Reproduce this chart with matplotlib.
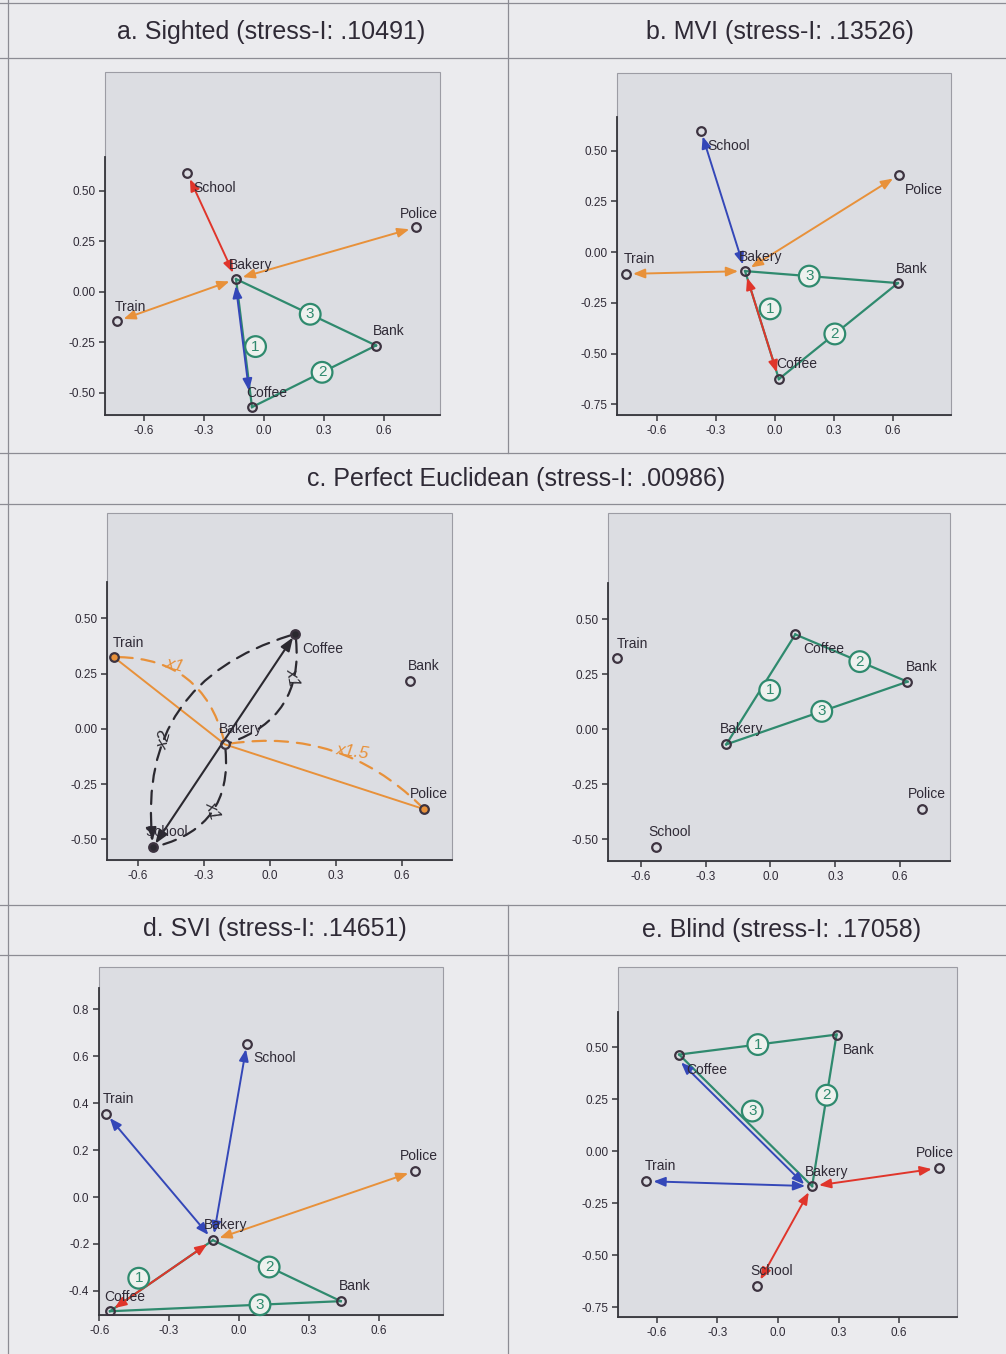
import matplotlib
matplotlib.use("Agg")
import matplotlib.pyplot as plt
from matplotlib.patches import FancyArrowPatch, Rectangle
from matplotlib.lines import Line2D
from matplotlib.transforms import ScaledTranslation

plt.rcParams['font.family'] = ['Liberation Sans', 'DejaVu Sans']

# ---------------------------------------------------------------- data
places = ["School", "Police", "Bakery", "Train", "Bank", "Coffee"]

sighted_x = [-0.385, 0.76, -0.14, -0.735, 0.56, -0.06]
sighted_y = [0.59, 0.32, 0.064, -0.145, -0.265, -0.57]

mvi_x = [-0.376, 0.63, -0.152, -0.757, 0.625, 0.02]
mvi_y = [0.596, 0.38, -0.094, -0.108, -0.153, -0.626]

euclid_x = [-0.532, 0.70, -0.205, -0.71, 0.635, 0.115]
euclid_y = [-0.535, -0.363, -0.07, 0.325, 0.215, 0.43]

svi_x = [0.034, 0.755, -0.112, -0.57, 0.437, -0.554]
svi_y = [0.654, 0.111, -0.184, 0.355, -0.444, -0.487]

blind_x = [-0.104, 0.796, 0.169, -0.652, 0.29, -0.49]
blind_y = [-0.647, -0.082, -0.169, -0.145, 0.56, 0.464]

group_names = ["a. Sighted", "b. MVI", "c. Perfect Euclidean", "d. SVI", "e. Blind"]
stress_values = [".10491", ".13526", ".00986", ".14651", ".17058"]

x_ticks = [-0.6, -0.3, 0.0, 0.3, 0.6]
x_tick_labels = ["-0.6", "-0.3", "0.0", "0.3", "0.6"]
y_ticks_quarter = [0.5, 0.25, 0.0, -0.25, -0.5, -0.75]
y_tick_labels_quarter = ["0.50", "0.25", "0.00", "-0.25", "-0.50", "-0.75"]
y_ticks_fifth = [0.8, 0.6, 0.4, 0.2, 0.0, -0.2, -0.4]
y_tick_labels_fifth = ["0.8", "0.6", "0.4", "0.2", "0.0", "-0.2", "-0.4"]

# ---------------------------------------------------------------- style
W, H = 1006, 1354
PAGE = '#ebebee'
BOX = '#dcdde2'
INK = '#2f2a36'
AXIS = '#35353b'
GREEN = '#2f8a6e'
ORANGE = '#e8913a'
RED = '#e0352b'
BLUE = '#3447b8'
DARK = '#2b2930'

fig = plt.figure(figsize=(W / 100, H / 100), dpi=100)
fig.patch.set_facecolor(PAGE)


def fig_line(x0, y0, x1, y1, **kw):
    fig.add_artist(Line2D([x0 / W, x1 / W], [1 - y0 / H, 1 - y1 / H],
                          transform=fig.transFigure, **kw))


# table rules of the figure page
rule = dict(color='#8c8c94', lw=0.9)
for yy in (3, 58, 453, 504, 905, 955):
    fig_line(0, yy, W, yy, **rule)
fig_line(8, 0, 8, H, **rule)
fig_line(508, 0, 508, 453, **rule)
fig_line(508, 905, 508, H, **rule)


def make_axes(box, xlim, ylim, yticks, ylabels, axis_top):
    x0, y0, x1, y1 = box
    ax = fig.add_axes([x0 / W, 1 - y1 / H, (x1 - x0) / W, (y1 - y0) / H])
    ax.set_facecolor(BOX)
    ax.set_xlim(*xlim)
    ax.set_ylim(*ylim)
    ax.set_xticks(x_ticks)
    ax.set_xticklabels(x_tick_labels)
    ax.set_yticks(yticks)
    ax.set_yticklabels(ylabels)
    for s in ('top', 'right'):
        ax.spines[s].set_visible(False)
    ax.spines['left'].set_bounds(ylim[0], axis_top)
    ax.spines['left'].set_color(AXIS)
    ax.spines['bottom'].set_color(AXIS)
    ax.spines['left'].set_linewidth(1.3)
    ax.spines['bottom'].set_linewidth(1.3)
    ax.add_patch(Rectangle((0, 0), 1, 1, transform=ax.transAxes, fill=False,
                           ec='#9c9ca4', lw=0.8, clip_on=False, zorder=0.5))
    ax.tick_params(direction='out', length=4, width=1.1, color=AXIS,
                   labelsize=8.5, labelcolor=INK, pad=3)
    return ax


def draw_points(ax, xs, ys, offsets, fills=None):
    for i, name in enumerate(places):
        fc = 'none' if fills is None else fills[i]
        ax.plot(xs[i], ys[i], 'o', ms=6.2, mfc=fc, mec='#3d3340', mew=1.6, zorder=6)
        dx, dy = offsets[i]
        ax.annotate(name, (xs[i], ys[i]), xytext=(dx, -dy), textcoords='offset pixels',
                    ha='left', va='center', fontsize=10, color=INK, zorder=7)


def draw_edges(ax, xs, ys, edges):
    for a, b, num, t, (ox, oy) in edges:
        ia, ib = places.index(a), places.index(b)
        ax.plot([xs[ia], xs[ib]], [ys[ia], ys[ib]], color=GREEN, lw=1.6, zorder=3)
    for a, b, num, t, (ox, oy) in edges:
        ia, ib = places.index(a), places.index(b)
        mx = xs[ia] + t * (xs[ib] - xs[ia])
        my = ys[ia] + t * (ys[ib] - ys[ia])
        ax.annotate(str(num), (mx, my), xytext=(ox, -oy), textcoords='offset pixels',
                    ha='center', va='center', fontsize=11, color=GREEN, zorder=5,
                    bbox=dict(boxstyle='circle,pad=0.22', fc='#eef1ee', ec=GREEN, lw=1.6))


def draw_arrows(ax, xs, ys, arrows):
    for a, b, col, (sa, sb), (ox, oy) in arrows:
        ia, ib = places.index(a), places.index(b)
        tr = ax.transData + ScaledTranslation(ox / 100, -oy / 100, fig.dpi_scale_trans)
        ax.add_patch(FancyArrowPatch((xs[ia], ys[ia]), (xs[ib], ys[ib]), transform=tr,
                                     arrowstyle='<|-|>,head_length=0.7,head_width=0.28',
                                     mutation_scale=10, color=col, lw=1.4,
                                     shrinkA=sa, shrinkB=sb, zorder=4))


def title(text, cx, cy):
    fig.text(cx / W, 1 - cy / H, text, ha='center', va='center', fontsize=18, color=INK)


NO = (0, 0)

# ---------------------------------------------------------------- a. Sighted
ax = make_axes((105, 72, 440, 415), (-0.795, 0.88), (-0.609, 1.089),
               y_ticks_quarter[:5], y_tick_labels_quarter[:5], 0.67)
draw_edges(ax, sighted_x, sighted_y,
           [("Bakery", "Coffee", 1, 0.535, (11, -1)),
            ("Coffee", "Bank", 2, 0.565, NO),
            ("Bakery", "Bank", 3, 0.53, NO)])
draw_arrows(ax, sighted_x, sighted_y,
            [("Bakery", "School", RED, (5, 5), NO),
             ("Bakery", "Police", ORANGE, (5, 5), NO),
             ("Bakery", "Train", ORANGE, (5, 5), NO),
             ("Bakery", "Coffee", BLUE, (5, 12), (-1, 0))])
draw_points(ax, sighted_x, sighted_y,
            [(6, 15), (-16, -13), (-7, -14), (-2, -14), (-3, -15), (-6, -14)])
title(f"{group_names[0]} (stress-I: {stress_values[0]})", 271, 32)

# ---------------------------------------------------------------- b. MVI
ax = make_axes((617, 73, 951, 415), (-0.803, 0.895), (-0.803, 0.882),
               y_ticks_quarter, y_tick_labels_quarter, 0.665)
draw_edges(ax, mvi_x, mvi_y,
           [("Bakery", "Coffee", 1, 0.387, (12, -4)),
            ("Coffee", "Bank", 2, 0.47, NO),
            ("Bakery", "Bank", 3, 0.42, NO)])
draw_arrows(ax, mvi_x, mvi_y,
            [("Bakery", "School", BLUE, (5, 4), NO),
             ("Bakery", "Police", ORANGE, (5, 5), NO),
             ("Bakery", "Train", ORANGE, (5, 5), NO),
             ("Bakery", "Coffee", RED, (5, 5), NO)])
draw_points(ax, mvi_x, mvi_y,
            [(6, 15), (6, 15), (-6, -14), (-2, -15), (-2, -14), (-3, -15)])
title(f"{group_names[1]} (stress-I: {stress_values[1]})", 780, 32)

# ---------------------------------------------------------------- c. Perfect Euclidean (annotated)
ax = make_axes((107, 513, 452, 860), (-0.741, 0.827), (-0.593, 0.977),
               y_ticks_quarter[:5], y_tick_labels_quarter[:5], 0.665)
ex, ey = euclid_x, euclid_y
iS, iP, iBk, iT, iC = (places.index(n) for n in ("School", "Police", "Bakery", "Train", "Coffee"))
ax.plot([ex[iT], ex[iBk], ex[iP]], [ey[iT], ey[iBk], ey[iP]], color=ORANGE, lw=1.4, zorder=3)
ax.add_patch(FancyArrowPatch((ex[iS], ey[iS]), (ex[iC], ey[iC]),
                             arrowstyle='<|-|>,head_length=0.8,head_width=0.3',
                             mutation_scale=10, color=DARK, lw=1.5, shrinkA=3, shrinkB=3, zorder=4))
dash = (0, (6, 4))
for (pa, pb, rad, col, style) in [
        ((ex[iT], ey[iT]), (ex[iBk], ey[iBk]), -0.4, ORANGE, '-'),
        ((ex[iBk], ey[iBk]), (ex[iP], ey[iP]), -0.26, ORANGE, '-'),
        ((ex[iC], ey[iC]), (ex[iS], ey[iS]), 0.42, DARK, '-|>,head_length=0.8,head_width=0.3'),
        ((ex[iC], ey[iC]), (ex[iBk], ey[iBk]), -0.42, DARK, '-'),
        ((ex[iBk], ey[iBk]), (ex[iS], ey[iS]), -0.45, DARK, '-')]:
    ax.add_patch(FancyArrowPatch(pa, pb, connectionstyle=f'arc3,rad={rad}',
                                 arrowstyle=style, mutation_scale=10, color=col,
                                 lw=1.6, linestyle=dash, shrinkA=4, shrinkB=4, zorder=3))
for txt, x, y, rot, col in [("x1", -0.432, 0.29, -15, ORANGE),
                            ("x1.5", 0.373, -0.104, -8, ORANGE),
                            ("x2", -0.477, -0.05, 75, DARK),
                            ("x1", 0.105, 0.235, -80, DARK),
                            ("x1", -0.259, -0.367, -72, DARK)]:
    ax.text(x, y, txt, rotation=rot, color=col, fontsize=12.5, style='italic',
            ha='center', va='center', zorder=5)
draw_points(ax, ex, ey,
            [(-8, -15), (-14, -15), (-6, -15), (-1, -14), (-2, -15), (7, 15)],
            fills=[DARK, ORANGE, 'none', ORANGE, 'none', DARK])
title(f"{group_names[2]} (stress-I: {stress_values[2]})", 516, 479)

# ---------------------------------------------------------------- c. Perfect Euclidean (triangle)
ax = make_axes((608, 513, 950, 861), (-0.753, 0.832), (-0.6, 0.982),
               y_ticks_quarter[:5], y_tick_labels_quarter[:5], 0.664)
draw_edges(ax, ex, ey,
           [("Bakery", "Coffee", 1, 0.528, (7, 4)),
            ("Coffee", "Bank", 2, 0.575, NO),
            ("Bakery", "Bank", 3, 0.527, NO)])
draw_points(ax, ex, ey,
            [(-7, -15), (-14, -15), (-6, -15), (-1, -14), (-2, -15), (8, 15)])

# ---------------------------------------------------------------- d. SVI
ax = make_axes((99, 967, 443, 1315), (-0.601, 0.876), (-0.503, 0.981),
               y_ticks_fifth, y_tick_labels_fifth, 0.891)
draw_edges(ax, svi_x, svi_y,
           [("Coffee", "Bakery", 1, 0.338, (-6, -9)),
            ("Bakery", "Bank", 2, 0.44, NO),
            ("Coffee", "Bank", 3, 0.65, NO)])
draw_arrows(ax, svi_x, svi_y,
            [("Bakery", "Train", BLUE, (5, 4), NO),
             ("Bakery", "School", BLUE, (5, 4), NO),
             ("Bakery", "Police", ORANGE, (5, 5), NO),
             ("Coffee", "Bakery", RED, (4, 5), NO)])
draw_points(ax, svi_x, svi_y,
            [(6, 14), (-15, -15), (-9, -15), (-3, -15), (-2, -15), (-6, -14)])
title(f"{group_names[3]} (stress-I: {stress_values[3]})", 275, 929)

# ---------------------------------------------------------------- e. Blind
ax = make_axes((618, 967, 957, 1317), (-0.793, 0.887), (-0.798, 0.885),
               y_ticks_quarter, y_tick_labels_quarter, 0.668)
draw_edges(ax, blind_x, blind_y,
           [("Coffee", "Bank", 1, 0.5, NO),
            ("Bank", "Bakery", 2, 0.4, NO),
            ("Coffee", "Bakery", 3, 0.49, (8, -8))])
draw_arrows(ax, blind_x, blind_y,
            [("Bakery", "Coffee", BLUE, (5, 5), (-3, 3)),
             ("Bakery", "Train", BLUE, (5, 5), NO),
             ("Bakery", "Police", RED, (5, 5), NO),
             ("Bakery", "School", RED, (5, 5), NO)])
draw_points(ax, blind_x, blind_y,
            [(-7, -15), (-23, -15), (-7, -14), (-2, -15), (6, 15), (7, 15)])
title(f"{group_names[4]} (stress-I: {stress_values[4]})", 782, 930)

fig.savefig("out.png", dpi=100, facecolor=fig.get_facecolor())
